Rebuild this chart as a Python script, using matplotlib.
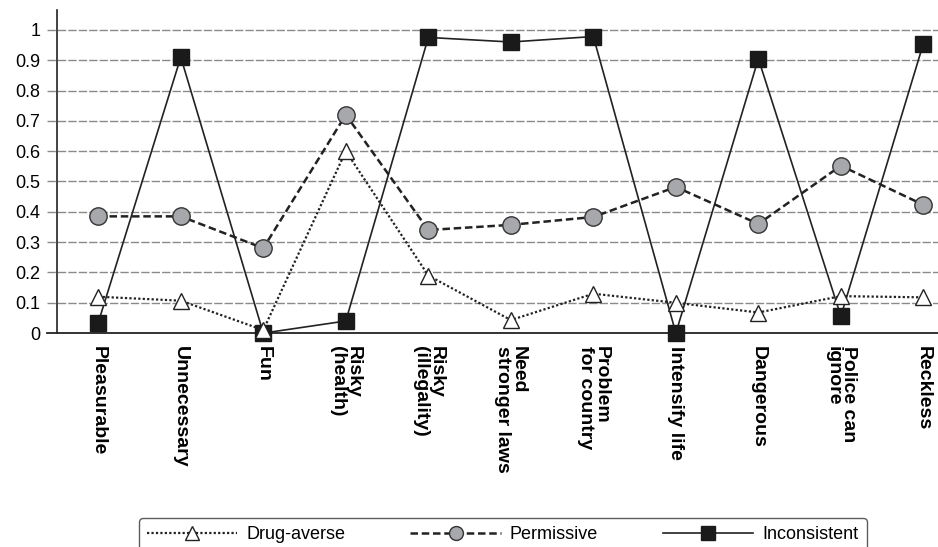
import matplotlib
matplotlib.use("Agg")
import matplotlib.pyplot as plt

plt.rcParams["font.family"] = ["Liberation Sans", "DejaVu Sans"]

categories = [
    "Pleasurable", "Unnecessary", "Fun", "Risky\n(health)", "Risky\n(illegality)",
    "Need\nstronger laws", "Problem\nfor country", "Intensify life", "Dangerous",
    "Police can\nignore", "Reckless",
]
drug_averse = [0.12, 0.107, 0.01, 0.60, 0.19, 0.043, 0.13, 0.10, 0.068, 0.122, 0.118]
permissive = [0.385, 0.385, 0.28, 0.72, 0.34, 0.357, 0.383, 0.482, 0.36, 0.552, 0.423]
inconsistent = [0.035, 0.91, 0.0, 0.04, 0.975, 0.96, 0.978, 0.0, 0.905, 0.056, 0.955]
yticks = [0, 0.1, 0.2, 0.3, 0.4, 0.5, 0.6, 0.7, 0.8, 0.9, 1]
ytick_labels = ["0", "0.1", "0.2", "0.3", "0.4", "0.5", "0.6", "0.7", "0.8", "0.9", "1"]

fig = plt.figure(figsize=(9.38, 5.47), dpi=100)
ax = fig.add_axes([0.0608, 0.391, 0.95, 0.591])
x = list(range(len(categories)))

# gridlines that poke out left of the spine like tick marks
ytrans = ax.get_yaxis_transform()
for v in yticks[1:]:
    ax.plot([-0.011, 1], [v, v], transform=ytrans, clip_on=False,
            color="#8a8a8a", lw=1.0, ls=(0, (6, 1.5)), zorder=1)
ax.plot([-0.011, 1], [0, 0], transform=ytrans, clip_on=False,
        color="#222222", lw=1.3, zorder=2)

ax.plot(x, inconsistent, "-", color="#222222", lw=1.2, marker="s", ms=11.5,
        mfc="#1a1a1a", mec="#1a1a1a", label="Inconsistent", zorder=3, clip_on=False)
ax.plot(x, permissive, color="#222222", lw=1.8, ls=(0, (3, 1.5)), marker="o", ms=12.5,
        mfc="#a7a8ab", mec="#333333", mew=1.0, label="Permissive", zorder=4, clip_on=False)
ax.plot(x, drug_averse, color="#222222", lw=1.6, ls=(0, (1, 1)), marker="^", ms=12,
        mfc="white", mec="#222222", mew=1.0, label="Drug-averse", zorder=5, clip_on=False)

ax.set_xlim(-0.5, 10.3)
ax.set_ylim(0, 1.066)
ax.set_yticks(yticks)
ax.set_yticklabels(ytick_labels, fontsize=13)
ax.tick_params(axis="y", length=0, pad=12)
ax.set_xticks(x)
ax.set_xticklabels(categories, rotation=-90, fontsize=14, fontweight="bold",
                   ha="center", va="top", multialignment="left", linespacing=0.9)
ax.tick_params(axis="x", length=0, pad=9)

for side in ("top", "right", "bottom"):
    ax.spines[side].set_visible(False)
ax.spines["left"].set_linewidth(1.2)
ax.spines["left"].set_color("#222222")

handles, labels = ax.get_legend_handles_labels()
leg = fig.legend(handles[::-1], labels[::-1], loc="upper center",
                 bbox_to_anchor=(0.536, 1 - 518 / 547), ncol=3, frameon=True,
                 fancybox=True, edgecolor="#333333", handlelength=5.0,
                 columnspacing=3.6, borderpad=0.45, handletextpad=0.5,
                 borderaxespad=0.0,
                 prop={"family": ["Liberation Sans Narrow", "Liberation Sans"], "size": 13})
leg.get_frame().set_linewidth(1.0)
for h in leg.legend_handles:
    h.set_markersize(10)

fig.savefig("out.png", dpi=100)
